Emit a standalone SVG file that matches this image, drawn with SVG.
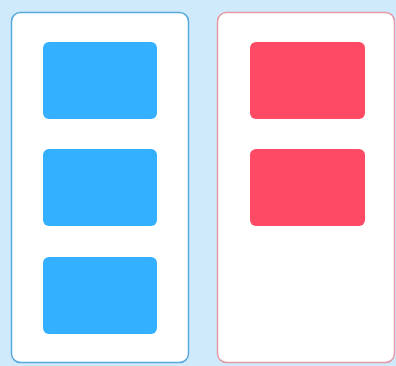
<svg xmlns="http://www.w3.org/2000/svg" width="396" height="366" viewBox="0 0 396 366">
<style>
.panel{fill:#ffffff;stroke-width:1.5}
.pb{stroke:#5aa9dc}
.pr{stroke:#e59aa8}
.bb{fill:#33b0ff}
.br{fill:#ff4a66}
</style>
<rect x="0" y="0" width="396" height="366" fill="#cfeafb"/>
<g id="panel-left">
<rect class="panel pb" x="11.5" y="12.5" width="177" height="350" rx="9"/>
</g>
<g id="panel-right">
<rect class="panel pr" x="217.5" y="12.5" width="177" height="350" rx="9"/>
</g>
<g id="blue-1"><rect class="bb" x="43" y="42" width="114" height="77" rx="6"/></g>
<g id="blue-2"><rect class="bb" x="43" y="149" width="114" height="77" rx="6"/></g>
<g id="blue-3"><rect class="bb" x="43" y="257" width="114" height="77" rx="6"/></g>
<g id="red-1"><rect class="br" x="250" y="42" width="115" height="77" rx="6"/></g>
<g id="red-2"><rect class="br" x="250" y="149" width="115" height="77" rx="6"/></g>
<g id="connectors"></g>
</svg>
